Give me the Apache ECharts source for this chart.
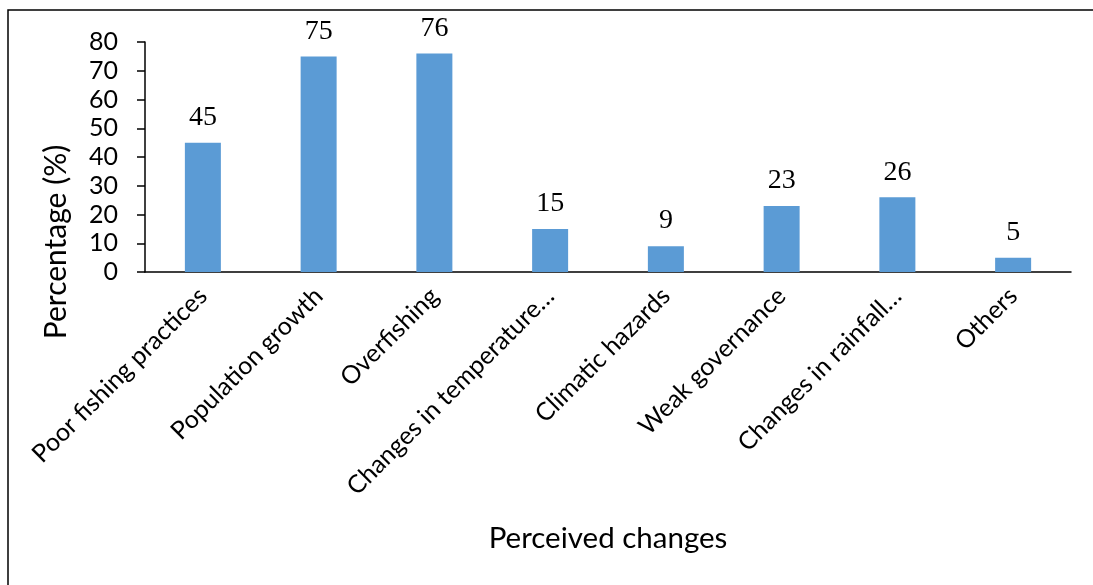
<!DOCTYPE html>
<html>
<head>
<meta charset="utf-8">
<script src="https://cdn.jsdelivr.net/npm/echarts@6/dist/echarts.min.js"></script>
<style>
  html, body { margin: 0; padding: 0; background: #fff; }
  #chart { width: 1093px; height: 585px; }
</style>
</head>
<body>
<div id="chart"></div>
<script>
// 类别
let categories = ['Poor fishing practices', 'Population growth', 'Overfishing', 'Changes in temperature…', 'Climatic hazards', 'Weak governance', 'Changes in rainfall…', 'Others']
// 百分比
let percentValues = [45, 75, 76, 15, 9, 23, 26, 5]
let yTicks = [0, 10, 20, 30, 40, 50, 60, 70, 80]

let chart = echarts.init(document.getElementById('chart'))

chart.setOption({
  animation: false,
  grid: {
    left: 145,
    right: 22,
    top: 42,
    bottom: 313
  },
  xAxis: {
    type: 'category',
    data: categories,
    axisLine: { lineStyle: { color: '#000', width: 1.5 } },
    axisTick: { alignWithLabel: true, inside: true, length: 8, lineStyle: { color: '#000', width: 1.5 } },
    axisLabel: {
      rotate: 45,
      margin: 20,
      interval: 0,
      color: '#000',
      fontFamily: 'Lato',
      fontSize: 25
    }
  },
  yAxis: {
    type: 'value',
    min: yTicks[0],
    max: yTicks[yTicks.length - 1],
    interval: 10,
    splitLine: { show: false },
    axisLine: { show: true, lineStyle: { color: '#000', width: 1.5 } },
    axisTick: { show: true, length: 8, lineStyle: { color: '#000', width: 1.5 } },
    axisLabel: {
      margin: 27,
      color: '#000',
      fontFamily: 'Lato',
      fontSize: 25
    }
  },
  series: [{
    type: 'bar',
    data: percentValues,
    barWidth: 36,
    itemStyle: { color: '#5B9BD5' },
    label: {
      show: true,
      position: 'top',
      distance: 11,
      color: '#000',
      fontFamily: 'Liberation Serif',
      fontSize: 28
    }
  }],
  graphic: [
    {
      type: 'rect',
      shape: { x: 8, y: 10, width: 1200, height: 700 },
      style: { fill: 'none', stroke: '#000', lineWidth: 2 },
      silent: true
    },
    {
      type: 'text',
      x: 56,
      y: 242,
      rotation: Math.PI / 2,
      style: {
        text: 'Percentage (%)',
        fontFamily: 'Lato',
        fontSize: 30,
        fill: '#000',
        align: 'center',
        verticalAlign: 'middle'
      }
    },
    {
      type: 'text',
      x: 608,
      y: 538,
      style: {
        text: 'Perceived changes',
        fontFamily: 'Lato',
        fontSize: 29.5,
        fill: '#000',
        align: 'center',
        verticalAlign: 'middle'
      }
    }
  ]
})

// 右端刻度
let endPt = chart.convertToPixel({ gridIndex: 0 }, [categories.length - 0.5, 0])
chart.setOption({
  graphic: [{
    type: 'line',
    shape: { x1: endPt[0], y1: endPt[1], x2: endPt[0], y2: endPt[1] - 8 },
    style: { stroke: '#000', lineWidth: 1.5 }
  }]
})
</script>
</body>
</html>
